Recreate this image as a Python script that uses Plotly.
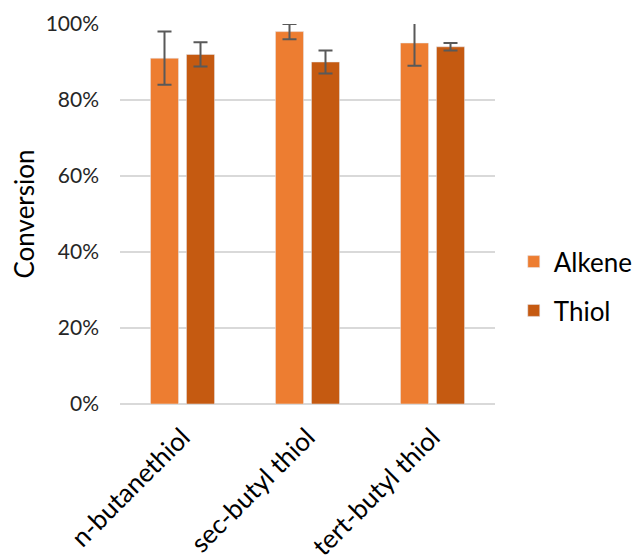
import plotly.graph_objects as go

categories = ["n-butanethiol", "sec-butyl thiol", "tert-butyl thiol"]
alkene = [0.91, 0.98, 0.95]
alkene_err = [0.07, 0.02, 0.06]
thiol = [0.92, 0.90, 0.94]
thiol_err = [0.032, 0.03, 0.01]

FONT = "Lato, Open Sans, sans-serif"

fig = go.Figure()
fig.add_trace(go.Bar(
    x=categories, y=alkene, name="Alkene", legendgroup="a",
    marker=dict(color="#ED7D31"),
    error_y=dict(type="data", array=alkene_err, color="#595959", thickness=2, width=7),
))
fig.add_trace(go.Bar(
    x=categories, y=thiol, name="Thiol", legendgroup="t",
    marker=dict(color="#C55A11"),
    error_y=dict(type="data", array=thiol_err, color="#595959", thickness=2, width=7),
))

fig.update_layout(
    width=632, height=550,
    margin=dict(l=112, r=145, t=16, b=154, autoexpand=False),
    paper_bgcolor="white", plot_bgcolor="white",
    font=dict(family=FONT, color="#262626"),
    barmode="group", bargap=0.424, bargroupgap=0.22,
    legend=dict(x=1.05, xanchor="left", y=0.31, yanchor="middle",
                font=dict(size=26, color="#000000"), tracegroupgap=12,
                traceorder="grouped", itemwidth=30),
    yaxis=dict(range=[0, 1.0], tickformat=".0%", dtick=0.2, automargin=False,
               gridcolor="#D9D9D9", gridwidth=1.5, zeroline=True,
               zerolinecolor="#D9D9D9", zerolinewidth=1.5, showline=False,
               tickfont=dict(size=21, color="#262626"), ticklabelstandoff=20,
               title=dict(text="Conversion", font=dict(size=26, color="#000000"),
                          standoff=10)),
    xaxis=dict(tickangle=-45, tickfont=dict(size=26, color="#000000"), automargin=False,
               showline=False, showgrid=False, ticklabelstandoff=12),
)

fig.write_html("out.html")
